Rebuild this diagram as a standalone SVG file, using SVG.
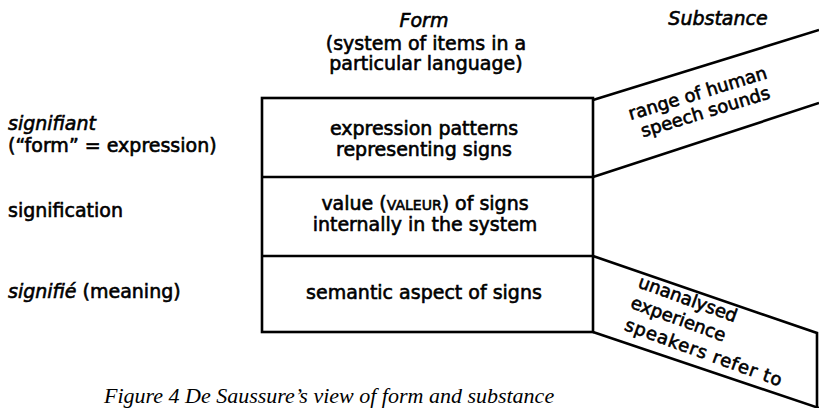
<svg xmlns="http://www.w3.org/2000/svg" width="819" height="408" viewBox="0 0 819 408">
<style>
.t{font-family:"DejaVu Sans","Liberation Sans",sans-serif;font-size:19px;fill:#000;stroke:#000;stroke-width:0.6}
.i{font-style:italic}
.m{text-anchor:middle}
.sc{font-size:14px}
.r{font-size:18px}
.cap{font-family:"Liberation Serif","Times New Roman",serif;font-style:italic;font-size:22px;fill:#000}
.ln{fill:none;stroke:#000;stroke-width:2.6;stroke-linejoin:miter}
</style>
<rect width="819" height="408" fill="#fff"/>
<g id="headers">
<text class="t i m" x="424" y="27">Form</text>
<text class="t m" x="426" y="50">(system of items in a</text>
<text class="t m" x="426" y="70">particular language)</text>
<text class="t i m" x="718" y="25">Substance</text>
</g>
<g id="left-labels">
<text class="t" x="8" y="130"><tspan class="i">signifiant</tspan></text>
<text class="t" x="8" y="152">(“form” = expression)</text>
<text class="t" x="8" y="217">signification</text>
<text class="t" x="8" y="298"><tspan class="i">signifié</tspan> (meaning)</text>
</g>
<g id="form-box">
<rect class="ln" x="262" y="98" width="331" height="234"/>
<line class="ln" x1="262" y1="177" x2="593" y2="177"/>
<line class="ln" x1="262" y1="256" x2="593" y2="256"/>
</g>
<g id="row-expression">
<text class="t m" x="424" y="135">expression patterns</text>
<text class="t m" x="424" y="156">representing signs</text>
</g>
<g id="row-value">
<text class="t m" x="425" y="210">value (<tspan class="sc">VALEUR</tspan>) of signs</text>
<text class="t m" x="425" y="231">internally in the system</text>
</g>
<g id="row-semantic">
<text class="t m" x="424" y="299">semantic aspect of signs</text>
</g>
<g id="connectors">
<polyline class="ln" points="593,100 819,30"/>
<polyline class="ln" points="593,177 819,103"/>
<polyline class="ln" points="593,256 817,333 817,407"/>
<polyline class="ln" points="593,332 819,408"/>
</g>
<g id="substance-sounds" transform="translate(700,101) rotate(-17)">
<text class="t r m" x="0" y="-2">range of human</text>
<text class="t r m" x="2" y="18">speech sounds</text>
</g>
<g id="substance-experience" transform="translate(684,304) rotate(20)">
<text class="t r" x="-50" y="0">unanalysed</text>
<text class="t r" x="-50" y="22">experience</text>
<text class="t r" x="-48" y="45" letter-spacing="0.8">speakers refer to</text>
</g>
<g id="caption">
<text class="cap" x="104" y="403">Figure 4 De Saussure’s view of form and substance</text>
</g>
</svg>
